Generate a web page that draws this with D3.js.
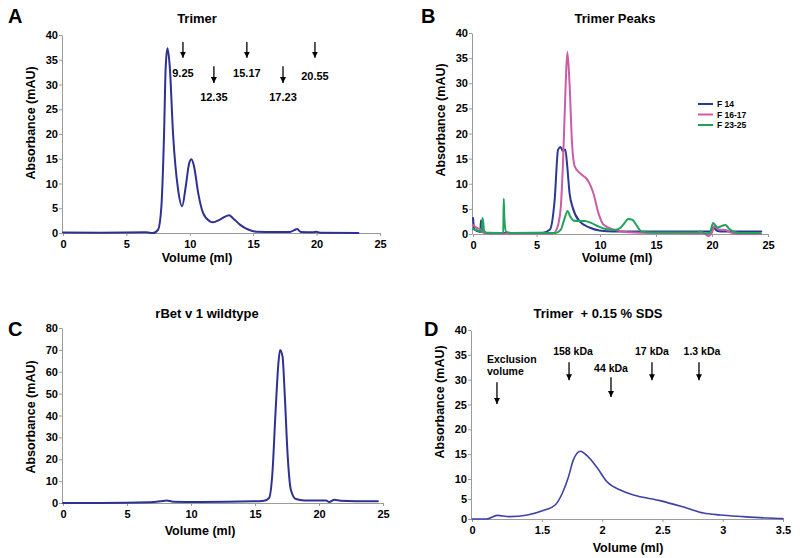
<!DOCTYPE html>
<html><head><meta charset="utf-8">
<script src="https://cdn.jsdelivr.net/npm/d3@7"></script>
<style>body{margin:0;background:#fff}svg{display:block}text{font-family:"Liberation Sans",Arial,sans-serif}</style>
</head><body>
<script>
// ---------- DATA ----------
const yTicks40 = [0,5,10,15,20,25,30,35,40];
const yTicks80 = [0,10,20,30,40,50,60,70,80];
const xTicks25 = [0,5,10,15,20,25];
const xTicksD = [0.92,1.5,2,2.5,3,3.5];
const xTickLabelsD = ["0","1.5","2","2.5","3","3.5"];

// Panel A: Trimer
const trimerX = [0,3,6.58,7.1,7.5,7.76,7.97,8.1,8.24,8.42,8.68,9.08,9.39,9.68,9.95,10.13,10.34,10.66,11.05,11.58,11.84,12.37,13.1,13.4,13.95,14.6,15.26,16.8,17.9,18.3,18.47,18.76,19.7,19.97,20.26,23.3];
const trimerY = [0.1,0.05,0.13,0,0.7,5.4,20,33.6,37.3,33.6,20,8.7,5.4,9.4,14.1,14.9,13.4,8.1,4,2.35,2.15,2.7,3.6,3.0,1.7,0.7,0.27,0.2,0.2,0.67,0.8,0.2,0.13,0.25,0.07,0];
const arrowsA = [9.46,11.9,14.5,17.35,19.87];
const arrowLabelsA = ["9.25","12.35","15.17","17.23","20.55"];
const arrowRowA = [0,1,0,1,0];

// Panel B: Trimer Peaks
const seriesNames = ["F 14","F 16-17","F 23-25"];
const f14X = [0,0.1,0.3,0.58,0.62,0.66,0.72,1.0,3,5.5,6.06,6.43,6.7,6.9,7.08,7.27,7.42,7.6,7.86,8.4,9.17,9.95,11.2,19.8,20.1,20.5,21,24.4];
const f14Y = [3.2,1.0,0.6,0.4,2.7,2.7,0.4,0.25,0.2,0.25,0.9,6.8,16.8,17.3,16.5,16.8,13.5,8.2,5.2,2.5,1.3,0.7,0.5,0.5,1.3,0.6,0.5,0.5];
const f1617X = [0,0.3,0.6,0.8,1.2,3,6.3,6.6,6.9,7.1,7.3,7.43,7.6,7.8,8.0,8.43,9.08,9.47,9.87,10.3,11.2,12.95,19.3,19.67,20.0,20.2,20.6,21.2,21.8,22.5,24.4];
const f1617Y = [1.8,1.2,0.9,0.4,0.1,0.05,0.1,1,5,15,30,36.2,30,18,13.5,12.1,10.5,8.2,4.2,1.9,0.9,0.3,0.1,-0.4,0.3,1.6,0.9,0.8,0.2,0,0];
const f2325X = [0,0.5,0.7,0.74,0.8,0.88,1.1,2.38,2.42,2.47,2.6,3,6.5,6.9,7.2,7.45,7.65,7.9,8.3,8.8,9.3,9.8,10.5,11.3,11.8,12.2,12.5,12.9,13.3,13.7,14.5,18.7,19.0,19.4,19.8,20.1,20.5,21.2,21.5,22,22.5,24.3];
const f2325Y = [1.0,0.6,0.5,3.2,2.5,0.6,0.2,0.2,7,3,0.5,0.2,0.2,0.8,3,4.6,3.5,2.7,2.6,2.6,2.2,1.6,1.0,0.8,1.2,2.2,3.0,2.8,1.6,0.5,0.3,0.3,0.5,0.1,0.2,2.2,1.3,1.8,1.1,0.4,0.2,0.2];

// Panel C: rBet v 1 wildtype
const wtX = [0,2.9,6.8,7.6,8.1,8.6,10.7,14.9,15.7,16.1,16.36,16.6,16.83,16.96,17.15,17.33,17.54,17.8,18.2,18.85,20.55,20.8,21.2,21.7,24.6];
const wtY = [0,0,0.3,0.75,1.2,0.6,0.45,0.75,1.05,2.3,13.7,41,64,70,67,48.8,22.9,6.1,1.8,1.2,1.2,0.45,1.5,1.05,0.75];

// Panel D: Trimer + 0.15 % SDS
const sdsX = [0.92,1.04,1.13,1.23,1.38,1.51,1.61,1.67,1.72,1.76,1.82,1.87,1.96,2.04,2.15,2.26,2.48,2.70,2.84,2.98,3.17,3.37,3.5];
const sdsY = [0,0,0.9,0.6,1.0,2.1,3.5,6.5,10.4,13.8,15.6,14.8,12.2,9.3,7.25,6.0,4.6,2.75,1.5,1.0,0.6,0.25,0.1];
const arrowsD = [1.127,1.725,2.073,2.413,2.803];
const arrowLabelsD = [["Exclusion","volume"],["158 kDa"],["44 kDa"],["17 kDa"],["1.3 kDa"]];

// ---------- DRAW ----------
const W = 800, H = 558;
const svg = d3.select("body").append("svg").attr("width", W).attr("height", H);

const AXIS_GREY = "#9b9b9b";
function styleAxis(g){
  g.select(".domain").attr("stroke", AXIS_GREY).attr("stroke-width",1);
  g.selectAll(".tick line").attr("stroke", AXIS_GREY);
  g.selectAll(".tick text").attr("font-weight","bold").attr("font-size",11).attr("fill","#000")
    .attr("font-family",'"Liberation Sans",Arial,sans-serif');
}
function drawAxes(x, y, xVals, yVals, xFmt){
  const gx = svg.append("g").attr("transform",`translate(0,${y.range()[0]})`)
    .call(d3.axisBottom(x).tickValues(xVals).tickSize(3).tickSizeOuter(0).tickPadding(4).tickFormat(xFmt || d3.format("")));
  styleAxis(gx);
  const gy = svg.append("g").attr("transform",`translate(${x.range()[0]-1},0)`)
    .call(d3.axisLeft(y).tickValues(yVals).tickSize(3).tickSizeOuter(0).tickPadding(1).tickFormat(d3.format("")));
  styleAxis(gy);
}
function txt(x, y, s, size, anchor, extra){
  const t = svg.append("text").attr("x",x).attr("y",y).text(s).attr("font-size",size)
    .attr("font-weight","bold").attr("text-anchor",anchor||"middle").attr("fill","#000");
  if (extra) extra(t);
  return t;
}
function ytitle(x, cy, s){
  svg.append("text").attr("transform",`translate(${x},${cy}) rotate(-90)`).attr("text-anchor","middle")
    .attr("font-size",12.5).attr("font-weight","bold").text(s);
}
function drawLine(x, y, xs, ys, color, w){
  const pts = xs.map((d,i)=>[d, ys[i]]);
  svg.append("path").datum(pts).attr("fill","none").attr("stroke",color).attr("stroke-width",w)
    .attr("stroke-linejoin","round").attr("stroke-linecap","round")
    .attr("d", d3.line().x(d=>x(d[0])).y(d=>y(d[1])).curve(d3.curveMonotoneX));
}
// arrowhead marker
svg.append("defs").append("marker").attr("id","ah").attr("viewBox","0 0 10 10").attr("refX",10).attr("refY",5)
  .attr("markerWidth",6).attr("markerHeight",6).attr("markerUnits","userSpaceOnUse").attr("orient","auto")
  .append("path").attr("d","M0,0 L10,5 L0,10 Z").attr("fill","#000");
function arrow(px, y1, y2){
  svg.append("line").attr("x1",px).attr("x2",px).attr("y1",y1).attr("y2",y2)
    .attr("stroke","#000").attr("stroke-width",1.3).attr("marker-end","url(#ah)");
}

// Panel A
{
  const x = d3.scaleLinear().domain([0,25]).range([63,380]);
  const y = d3.scaleLinear().domain([0,40]).range([233,35]);
  drawAxes(x, y, xTicks25, yTicks40);
  drawLine(x, y, trimerX, trimerY, "#2e3192", 2);
  txt(8, 23, "A", 20, "start");
  txt(197, 23, "Trimer", 13);
  txt(197, 262, "Volume (ml)", 12.5);
  ytitle(35, 123, "Absorbance (mAU)");
  arrowsA.forEach((v,i)=>{
    const r = arrowRowA[i];
    const top = r ? y(33.7) : y(38.6), bot = r ? y(30.3) : y(35.4);
    arrow(x(v), top, bot);
    txt(x(v), r ? 101 : (i===4 ? 80 : 77), arrowLabelsA[i], 11);
  });
}

// Panel B
{
  const x = d3.scaleLinear().domain([0,10,25]).range([473,600,768]);
  const y = d3.scaleLinear().domain([0,40]).range([234,33]);
  drawAxes(x, y, xTicks25, yTicks40);
  const colors = ["#2b3a8f","#cc5ca6","#1fa35a"];
  drawLine(x, y, f14X, f14Y, colors[0], 2);
  drawLine(x, y, f1617X, f1617Y, colors[1], 2);
  drawLine(x, y, f2325X, f2325Y, colors[2], 2);
  txt(421, 23, "B", 20, "start");
  txt(615, 23, "Trimer Peaks", 13);
  txt(617, 262, "Volume (ml)", 12.5);
  ytitle(445, 120, "Absorbance (mAU)");
  seriesNames.forEach((n,i)=>{
    const ly = 104 + i*10.5;
    svg.append("line").attr("x1",698).attr("x2",713).attr("y1",ly).attr("y2",ly).attr("stroke",colors[i]).attr("stroke-width",2);
    txt(717, ly+3, n, 8.5, "start");
  });
}

// Panel C
{
  const x = d3.scaleLinear().domain([0,25]).range([63,383]);
  const y = d3.scaleLinear().domain([0,80]).range([503,328]);
  drawAxes(x, y, xTicks25, yTicks80);
  drawLine(x, y, wtX, wtY, "#2e3192", 2);
  txt(8, 336, "C", 20, "start");
  txt(207, 318, "rBet v 1 wildtype", 13);
  txt(200, 535, "Volume (ml)", 12.5);
  ytitle(35, 417, "Absorbance (mAU)");
}

// Panel D
{
  const x = d3.scaleLinear().domain([0.92,3.5]).range([472,783]);
  const y = d3.scaleLinear().domain([0,10,40]).range([519,479,330]);
  drawAxes(x, y, xTicksD, yTicks40, (d,i)=>xTickLabelsD[i]);
  drawLine(x, y, sdsX, sdsY, "#3c42a6", 1.6);
  txt(424, 336, "D", 20, "start");
  txt(598, 318, "Trimer  + 0.15 % SDS", 13, "middle", t=>t.style("white-space","pre"));
  txt(628, 552, "Volume (ml)", 12.5);
  ytitle(444, 402, "Absorbance (mAU)");
  // arrows
  arrow(x(arrowsD[0]), y(29.5), y(25.1));
  txt(487, 363, arrowLabelsD[0][0], 10.5, "start");
  txt(487, 375, arrowLabelsD[0][1], 10.5, "start");
  const lv = [null,[33.5,29.9,355],[30.5,26.5,372],[33.5,29.9,355],[33.5,29.9,355]];
  [1,2,3,4].forEach(i=>{
    arrow(x(arrowsD[i]), y(lv[i][0]), y(lv[i][1]));
    txt(x(arrowsD[i]) + (i===1?4:(i===4?3:0)), lv[i][2], arrowLabelsD[i][0], 10.5);
  });
}
</script>
</body></html>
